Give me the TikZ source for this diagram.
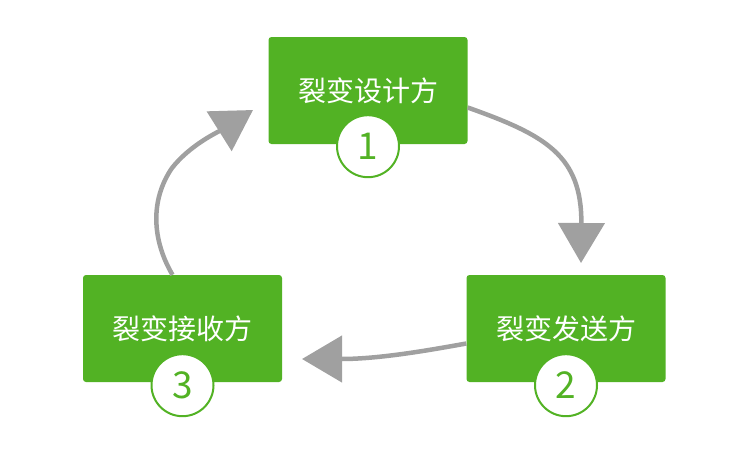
\documentclass[tikz,border=0pt]{standalone}
\usepackage{fontspec}
\newfontfamily\cjk{Noto Sans CJK SC}
\usetikzlibrary{arrows.meta}
\definecolor{boxgreen}{HTML}{52B224}
\definecolor{arrgray}{HTML}{A0A0A0}
\tikzset{
  stepbox/.style={fill=boxgreen, rounded corners=3pt, minimum width=199pt, minimum height=107pt,
    inner sep=0pt, text=white, font=\cjk\fontsize{28}{30}\selectfont},
  numcirc/.style={circle, draw=boxgreen, line width=2pt, fill=white, minimum size=62pt, inner sep=0pt,
    text=boxgreen, font=\cjk\fontsize{37}{40}\selectfont},
  arr/.style={draw=arrgray, line width=4.5pt, -{Triangle[width=46pt,length=40pt]}, arrgray}
}
\begin{document}
\begin{tikzpicture}[x=1pt,y=-1pt]
\useasboundingbox (0,0) rectangle (750,475);
\node[stepbox] (b1) at (368,90.5) {裂变设计方};
\node[stepbox] (b2) at (566,328.5) {裂变发送方};
\node[stepbox] (b3) at (182.5,328.5) {裂变接收方};
\node[numcirc, yshift=-2pt] (c1) at (b1.south) {1};
\node[numcirc, yshift=-3pt] (c2) at (b2.south) {2};
\node[numcirc, yshift=-3pt] (c3) at (b3.south) {3};
\coordinate (t1) at (581,263);
\coordinate (t2) at (302,359);
\coordinate (t3) at (253,110);
\coordinate (m3) at (172,168);
\draw[arr] ([yshift=-17pt]b1.east) .. controls (545,135) and (582,155) .. (t1);
\draw[arr] ([yshift=-15pt]b2.west) .. controls (430,350) and (380,359) .. (t2);
\draw[arr] ([xshift=-10pt]b3.north) .. controls (152,240) and (150,200) .. (m3)
  .. controls (190,145) and (218,132) .. (t3);
\end{tikzpicture}
\end{document}
